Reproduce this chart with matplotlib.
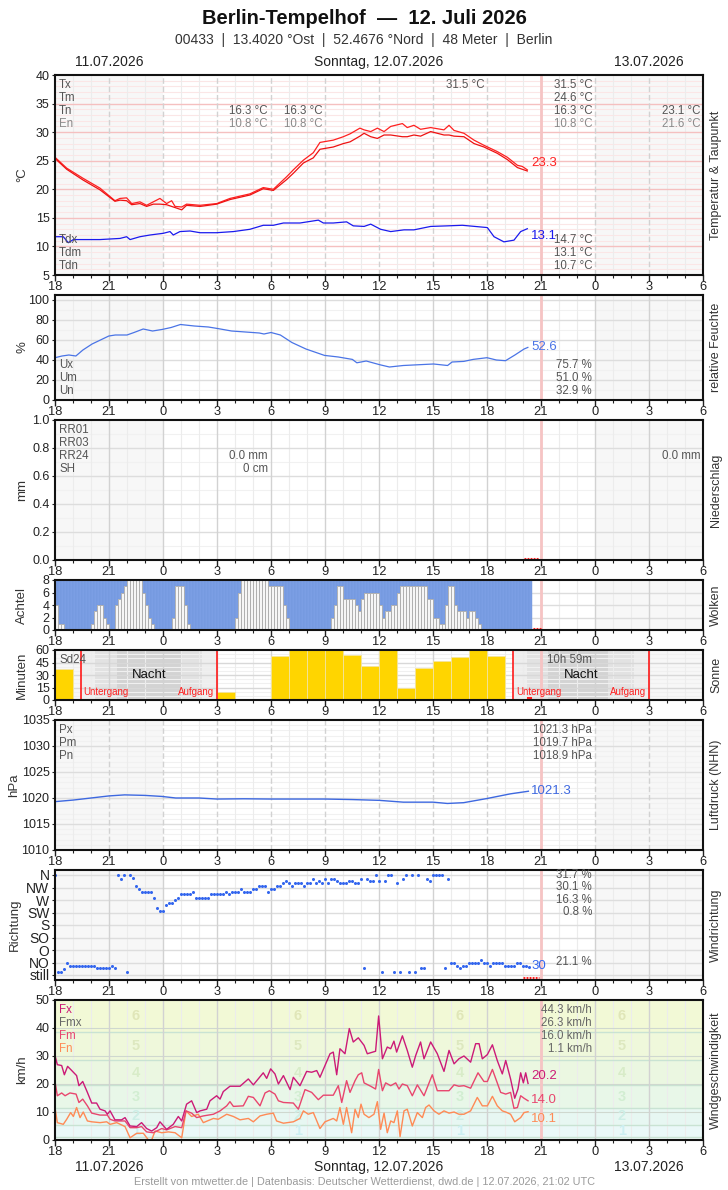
import matplotlib
matplotlib.use('Agg')
import matplotlib.pyplot as plt
from matplotlib import font_manager as fm

avail = {f.name for f in fm.fontManager.ttflist}
FONT = 'Liberation Sans' if 'Liberation Sans' in avail else 'DejaVu Sans'
plt.rcParams['font.family'] = [FONT, 'DejaVu Sans']

# ---------------- data (hours since 11.07. 18:00 UTC) ----------------
HOUR_LABELS = ['18', '21', '0', '3', '6', '9', '12', '15', '18', '21', '0', '3', '6']

temp_h = [0, 0.65, 1.57, 2.5, 3.33, 3.61, 3.98, 4.26, 4.72, 5.09, 5.46, 5.83, 6.20, 6.48, 6.67,
          7.04, 7.31, 8.06, 8.98, 9.72, 10.83, 11.57, 12.13, 12.87, 13.24, 13.80, 14.35, 14.72,
          15.46, 16.02, 16.39, 16.94, 17.17, 17.54, 17.91, 18.28, 18.65, 19.30, 19.57, 19.94,
          20.31, 20.87, 21.61, 21.89, 22.17, 22.72, 23.28, 23.83, 24.57, 25.13, 25.69, 25.96, 26.24]
temp_max = [25.6, 23.7, 21.9, 20.2, 18.0, 18.4, 18.5, 17.5, 17.8, 17.2, 17.8, 18.4, 17.5, 18.0, 17.0,
            16.9, 17.4, 17.2, 17.5, 18.4, 19.2, 20.3, 20.0, 22.2, 23.4, 25.1, 26.4, 28.2,
            28.6, 29.2, 29.7, 30.7, 30.4, 30.1, 30.7, 30.1, 31.0, 31.5, 30.8, 31.2,
            30.5, 30.8, 30.4, 31.2, 30.3, 29.8, 28.6, 27.7, 26.6, 25.6, 24.2, 24.0, 23.4]
temp_mean = [25.4, 23.5, 21.6, 19.9, 17.9, 18.1, 18.0, 17.3, 17.5, 17.0, 17.4, 17.4, 17.3, 17.0, 16.8,
             16.4, 17.2, 17.0, 17.4, 18.2, 19.0, 20.1, 19.8, 21.7, 22.8, 24.6, 25.5, 27.0,
             27.4, 28.0, 28.3, 29.3, 29.8, 29.2, 28.9, 29.5, 29.5, 29.2, 29.2, 29.5,
             29.3, 30.1, 29.5, 29.5, 29.3, 29.2, 28.0, 27.4, 26.3, 25.2, 23.8, 23.5, 23.2]

dew_h = [0, 0.46, 0.74, 1.02, 2.5, 3.61, 3.98, 4.17, 4.72, 5.28, 6.02, 6.39, 6.57, 6.94, 7.5,
         8.06, 8.98, 9.91, 10.83, 11.57, 12.13, 12.69, 13.61, 14.63, 14.91, 15.46, 16.2, 16.57,
         17.17, 17.54, 18.09, 18.65, 19.39, 19.94, 20.87, 21.8, 22.63, 24.02, 24.39, 24.94, 25.5,
         25.87, 26.24]
dew_v = [11.7, 11.7, 10.65, 11.2, 11.2, 11.4, 11.7, 11.2, 11.7, 12.0, 12.3, 12.6, 12.0, 12.6, 12.7,
         12.4, 12.4, 12.6, 13.0, 13.7, 13.7, 14.1, 14.1, 14.6, 14.1, 14.1, 14.3, 13.6,
         13.5, 13.9, 13.0, 12.6, 12.9, 12.9, 13.5, 13.6, 13.7, 13.3, 11.7, 10.8, 11.1,
         12.6, 13.1]

hum_h = [0, 0.39, 0.77, 1.16, 1.55, 2.06, 2.99, 3.35, 4.0, 4.39, 4.9, 5.42, 5.94, 6.45, 6.97,
         7.74, 8.52, 9.03, 9.81, 10.58, 11.35, 11.61, 12.0, 12.52, 13.16, 13.94, 14.97, 15.74,
         16.52, 16.77, 17.29, 18.06, 18.58, 19.35, 20.13, 21.03, 21.81, 22.06, 22.71, 23.23,
         24.0, 24.52, 25.03, 25.55, 26.06, 26.27]
hum_v = [42.3, 44, 45, 44, 50, 56, 64, 65, 65, 67.5, 71, 69, 70.5, 72.5, 75.5,
         74, 73, 71.5, 69, 68, 67, 66, 67.5, 65, 57.5, 51, 44.6, 43,
         40.6, 37.2, 39, 35.2, 33, 34.5, 35.2, 36, 34.5, 38, 38.6, 40.6,
         42.3, 40, 39.3, 45, 51, 52.6]

# cloud cover in octas, 10-minute steps from 18:00
cloud_octas = [4, 1, 1, 0, 0, 0, 0, 0, 0, 0, 0, 0, 1, 3, 4, 4, 2, 1, 0, 0,
               4, 5, 6, 7, 8, 8, 8, 8, 8, 6, 4, 2, 1, 0, 0, 0, 0, 0, 0, 2,
               7, 7, 7, 4, 1, 0, 0, 0, 0, 0, 0, 0, 0, 0, 0, 0, 0, 0, 0, 0,
               2, 6, 8, 8, 8, 8, 8, 8, 8, 8, 8, 7, 7, 7, 7, 7, 4, 2, 0, 0,
               0, 0, 0, 0, 0, 0, 0, 0, 0, 0, 0, 0, 2, 4, 7, 7, 5, 5, 5, 5,
               4, 3, 5, 6, 6, 6, 6, 6, 4, 2, 3, 3, 4, 4, 6, 7, 7, 7, 7, 7,
               7, 7, 7, 7, 5, 5, 2, 2, 1, 1, 4, 7, 7, 4, 3, 3, 3, 2, 3, 3,
               2, 1, 0, 0, 0, 0, 0, 0, 0, 0, 0, 0, 0, 0, 0, 0, 0, 0, 0]

# sunshine minutes per hour, starting 18:00
sun_minutes = [37, 1, 0, 0, 0, 0, 0, 0, 0, 10, 0, 0, 53, 60, 60, 60, 54, 41, 60, 14, 38, 47, 52, 60, 53]
sun_events = [1.46, 8.99, 25.44, 33.02]          # Untergang, Aufgang, Untergang, Aufgang
twilight_left = [1.46, 2.23, 3.44, 7.0, 8.17, 8.99]
twilight_right = [25.44, 26.22, 27.39, 30.75, 32.17, 33.02]

pres_h = [0, 1, 2, 3, 3.87, 5, 5.94, 6.71, 8, 9, 10.5, 12, 14, 15, 16.5, 18, 19.35, 21, 21.8, 22.7,
          24, 25.3, 26.3]
pres_v = [1019.3, 1019.6, 1020.0, 1020.4, 1020.6, 1020.5, 1020.3, 1020.0, 1020.0, 1019.8, 1019.85,
          1019.8, 1019.8, 1019.8, 1019.7, 1019.55, 1019.2, 1019.2, 1018.95, 1019.1, 1019.9, 1020.8,
          1021.3]

# wind direction in degrees, 10-minute steps from 18:00
wind_dir = [360, 12, 12, 20, 42, 32, 32, 32, 32, 32, 32, 32, 32, 32, 24, 24, 24, 24, 24, 32,
            24, 360, 347, 360, 12, 360, 351, 320, 308, 299, 299, 299, 299, 279, 240, 230, 230, 251, 261, 261,
            270, 279, 290, 290, 290, 290, 299, 279, 279, 279, 279, 279, 290, 290, 290, 290, 290, 299, 290, 299,
            299, 299, 308, 299, 299, 299, 308, 308, 320, 320, 320, 299, 308, 308, 320, 320, 330, 340, 330, 320,
            330, 330, 330, 320, 330, 330, 347, 330, 340, 330, 347, 330, 347, 347, 340, 330, 330, 330, 340, 340,
            330, 330, 347, 24, 347, 340, 340, 360, 340, 12, 340, 360, 360, 12, 330, 12, 347, 360, 12, 360,
            12, 360, 24, 24, 347, 340, 360, 360, 360, 360, 24, 347, 45, 45, 32, 24, 32, 32, 42, 42,
            42, 42, 54, 42, 42, 32, 42, 42, 42, 42, 32, 32, 32, 32, 42, 42, 32, 32, 30]
DIR_LABELS = ['still', 'NO', 'O', 'SO', 'S', 'SW', 'W', 'NW', 'N']

fx_h = [0, 0.13, 0.37, 0.52, 0.70, 0.93, 1.20, 1.33, 1.54, 1.80, 2.04, 2.31, 2.50, 2.78, 2.91, 3.06,
        3.33, 3.70, 3.89, 4.17, 4.54, 4.81, 5.09, 5.37, 5.65, 5.83, 6.20, 6.57, 6.85, 7.04, 7.31,
        7.59, 7.87, 8.06, 8.43, 8.61, 8.98, 9.17, 9.35, 9.72, 10.28, 10.74, 11.02, 11.57, 11.76,
        11.98, 12.22, 12.41, 12.69, 13.06, 13.24, 13.61, 13.98, 14.26, 14.54, 14.72, 15.00, 15.28,
        15.46, 15.65, 15.83, 16.11, 16.35, 16.57, 16.85, 17.17, 17.35, 17.81, 17.98, 18.19, 18.46,
        18.65, 18.83, 18.98, 19.30, 19.57, 19.85, 20.04, 20.31, 20.50, 20.87, 21.24, 21.61, 21.89,
        22.17, 22.44, 22.72, 23.09, 23.37, 23.56, 23.74, 24.02, 24.30, 24.57, 24.85, 25.04, 25.31,
        25.54, 25.72, 25.87, 26.02, 26.15, 26.28]
fx_v = [30.2, 26.9, 26.6, 23.3, 26.3, 24.8, 23.0, 19.4, 20.9, 17.0, 13.2, 13.2, 11.0, 10.4, 9.2, 10.4,
        7.2, 7.2, 8.0, 5.0, 4.8, 6.2, 4.1, 3.2, 4.4, 6.5, 3.8, 5.6, 8.4, 6.8, 12.8,
        14.0, 9.8, 10.4, 11.0, 14.0, 15.8, 14.6, 17.3, 19.2, 19.2, 21.8, 19.7, 24.0, 22.0,
        25.4, 23.6, 20.0, 23.0, 18.0, 22.4, 19.4, 24.5, 24.2, 24.8, 22.4, 26.6, 30.8,
        31.4, 23.3, 32.6, 30.8, 39.8, 35.0, 36.5, 33.8, 30.8, 31.7, 44.3, 29.0, 33.2,
        32.6, 35.3, 31.4, 37.2, 32.0, 26.0, 30.2, 35.0, 29.0, 35.0, 30.8, 24.5, 32.0,
        27.2, 29.0, 30.0, 27.8, 34.4, 34.4, 29.0, 30.5, 34.0, 28.4, 23.6, 28.4, 21.8,
        14.9, 18.2, 24.0, 20.4, 24.0, 20.2]

fm_h = [0, 0.13, 0.37, 0.56, 0.83, 1.17, 1.33, 1.54, 1.80, 2.04, 2.50, 2.91, 3.06, 3.33, 3.89, 4.17,
        4.54, 4.81, 5.09, 5.46, 5.65, 5.93, 6.20, 6.67, 7.04, 7.28, 7.59, 7.87, 8.24, 8.80, 9.17,
        9.54, 9.72, 9.91, 10.46, 10.74, 11.02, 11.39, 11.67, 11.91, 12.22, 12.41, 12.69, 13.24,
        13.52, 13.89, 14.26, 14.63, 14.91, 15.46, 15.74, 15.93, 16.20, 16.39, 16.67, 16.85, 17.04,
        17.17, 17.54, 17.81, 17.98, 18.19, 18.37, 18.65, 18.93, 19.11, 19.30, 19.57, 19.85, 20.13,
        20.50, 20.96, 21.24, 21.89, 22.17, 22.44, 22.72, 23.09, 23.50, 23.83, 24.02, 24.30, 24.57,
        24.76, 25.04, 25.31, 25.50, 25.69, 25.87, 26.06, 26.28]
fm_v = [20.9, 15.8, 16.8, 15.8, 16.8, 16.4, 13.4, 14.6, 12.2, 9.6, 8.9, 8.9, 7.4, 6.8, 6.8, 4.4,
        4.4, 4.8, 2.9, 2.6, 3.2, 4.1, 3.6, 4.8, 4.4, 10.4, 9.6, 8.0, 8.6, 9.2, 10.4,
        12.2, 13.7, 12.0, 12.2, 15.6, 15.2, 12.2, 16.8, 17.6, 16.4, 14.0, 13.4, 13.2,
        11.0, 18.0, 17.0, 14.4, 16.0, 16.0, 19.4, 13.4, 21.2, 17.0, 21.2, 23.3, 24.0,
        20.4, 19.2, 18.2, 25.2, 17.6, 20.4, 19.4, 20.4, 18.2, 20.0, 19.4, 15.8, 19.7,
        15.8, 23.3, 17.6, 17.6, 19.7, 19.2, 19.4, 18.5, 24.0, 20.9, 20.9, 25.2, 20.4,
        17.0, 16.4, 17.0, 11.3, 11.6, 15.8, 14.9, 14.0]

fn_h = [0, 0.13, 0.46, 0.65, 0.87, 1.02, 1.20, 1.39, 1.57, 1.80, 2.04, 2.50, 2.87, 3.06, 3.43, 3.89,
        4.17, 4.54, 4.91, 5.19, 5.37, 5.56, 5.93, 6.30, 6.67, 7.04, 7.28, 7.59, 7.96, 8.24, 8.80,
        9.07, 9.54, 9.91, 10.28, 10.74, 11.02, 11.39, 11.76, 12.13, 12.31, 12.69, 13.24, 13.61,
        13.80, 14.07, 14.35, 14.72, 15.00, 15.46, 15.65, 15.83, 16.02, 16.20, 16.48, 16.67, 16.85,
        17.00, 17.17, 17.44, 17.72, 17.91, 18.09, 18.28, 18.46, 18.65, 18.83, 19.02, 19.17, 19.39,
        19.57, 19.85, 20.13, 20.41, 20.59, 20.78, 21.06, 21.33, 21.61, 21.89, 22.17, 22.44, 22.72,
        23.09, 23.46, 23.74, 24.02, 24.30, 24.57, 24.85, 25.04, 25.31, 25.54, 25.87, 26.06, 26.28]
fn_v = [11.6, 6.2, 5.6, 7.4, 9.8, 8.4, 11.6, 8.0, 10.0, 6.8, 6.5, 6.2, 6.5, 5.6, 6.2, 4.8,
        0.8, 2.4, 2.4, 0.0, 0.0, 3.2, 2.6, 2.9, 2.6, 0.8, 10.4, 8.4, 9.2, 6.2, 7.7,
        7.4, 9.2, 8.4, 7.2, 7.7, 6.5, 8.6, 9.2, 9.6, 6.8, 6.0, 6.5, 7.7,
        10.4, 9.2, 9.8, 4.1, 6.5, 7.7, 6.8, 11.6, 5.6, 11.6, 2.6, 11.0, 8.0,
        12.8, 9.2, 8.0, 9.2, 13.7, 3.8, 9.6, 2.6, 6.8, 6.2, 10.4, 1.2, 10.4,
        11.0, 5.0, 9.8, 8.0, 11.6, 12.5, 10.4, 9.2, 10.4, 9.6, 10.0, 9.2, 9.2,
        10.4, 15.2, 12.2, 12.2, 15.6, 12.2, 10.4, 10.0, 9.2, 6.5, 8.0, 9.8, 10.1]

bft_edges = [0, 1, 5.5, 11.5, 19.5, 28.5, 38.5, 50]
bft_colors = ['#f2fbfb', '#eaf8f8', '#e7f7f2', '#e8f7e8', '#ebf7e1', '#eff8db', '#f2f9d6']
bft_text_colors = ['#cdeff2', '#cdeee6', '#d2eed2', '#d8ecc8', '#dde8bf', '#e0e6b8']

NOW = 27.0

# ---------------- figure ----------------
W, H = 728, 1190
X0, X1 = 55, 703
fig = plt.figure(figsize=(W / 100, H / 100), dpi=100)
fig.patch.set_facecolor('white')

TXT = '#555555'
LIGHT = '#8a8a8a'
TICK_FS = 9


def ft(x, y, s, **kw):
    kw.setdefault('va', 'center')
    kw.setdefault('fontsize', 8.3)
    kw.setdefault('color', TXT)
    return fig.text(x / W, 1 - y / H, s, **kw)


def panel(top, bot, ylim, yticks, yticklabels=None, hmajor=(), hminor=(), hcol='#dddddd',
          hmcol='#f1f1f1', vdash=False, shade=True):
    ax = fig.add_axes([X0 / W, 1 - bot / H, (X1 - X0) / W, (bot - top) / H])
    ax.set_xlim(0, 36)
    ax.set_ylim(*ylim)
    if shade:
        ax.axvspan(0, 6, color='#f7f7f7', lw=0, zorder=0)
        ax.axvspan(30, 36, color='#f7f7f7', lw=0, zorder=0)
    for y in hminor:
        ax.axhline(y, color=hmcol, lw=0.8, zorder=0.3)
    for h in range(1, 36):
        if h % 3:
            ax.axvline(h, color='#ececec', lw=0.8, zorder=0.4)
    for y in hmajor:
        ax.axhline(y, color=hcol, lw=1.0, zorder=0.5)
    for h in range(3, 36, 3):
        ax.axvline(h, color='#d2d2d2', lw=1.0, ls=(0, (4, 2)) if vdash else '-', zorder=0.6)
    ax.axvline(NOW, color='#f6c4c4', lw=2, zorder=0.7)
    ax.set_xticks(range(0, 37, 3))
    ax.set_xticklabels(HOUR_LABELS)
    ax.set_xticks(range(37), minor=True)
    ax.set_yticks(yticks)
    if yticklabels is not None:
        ax.set_yticklabels(yticklabels)
    ax.tick_params(axis='x', which='major', length=4, width=1, pad=0.5, labelsize=TICK_FS + 0.3,
                   colors='#222222')
    ax.tick_params(axis='x', which='minor', length=2.5, width=0.8, colors='#222222')
    ax.tick_params(axis='y', length=2, pad=2, labelsize=TICK_FS, colors='#222222')
    for sp in ax.spines.values():
        sp.set_linewidth(1.5)
        sp.set_color('#111111')
        sp.set_zorder(10)
    return ax


def side_labels(yc, left, right, lx=22):
    ft(lx, yc, left, rotation=90, ha='center', fontsize=9.5, color='#333333')
    ft(716, yc, right, rotation=90, ha='center', fontsize=9, color='#333333')


# ---- header ----
ft(364, 18, 'Berlin-Tempelhof  \u2014  12. Juli 2026', ha='center', fontsize=14.5,
   fontweight='bold', color='#111111')
ft(364, 40, '00433  |  13.4020 \u00b0Ost  |  52.4676 \u00b0Nord  |  48 Meter  |  Berlin',
   ha='center', fontsize=10, color='#333333')
for yy in (62, 1167):
    ft(109, yy, '11.07.2026', ha='center', fontsize=10, color='#222222')
    ft(379, yy, 'Sonntag, 12.07.2026', ha='center', fontsize=10, color='#222222')
    ft(649, yy, '13.07.2026', ha='center', fontsize=10, color='#222222')
ft(364, 1182, 'Erstellt von mtwetter.de | Datenbasis: Deutscher Wetterdienst, dwd.de | 12.07.2026, 21:02 UTC',
   ha='center', fontsize=7.8, color='#9a9a9a')

# ---- temperature ----
ax = panel(75, 275, (5, 40), range(5, 41, 5), hmajor=range(10, 40, 5),
           hminor=[v for v in range(6, 40) if v % 5], hcol='#f5c0c0', hmcol='#fbe6e6', vdash=True)
ax.plot(temp_h, temp_max, color='#ff2020', lw=0.9, zorder=3)
ax.plot(temp_h, temp_mean, color='#ee1111', lw=0.9, zorder=3)
ax.plot(dew_h, dew_v, color='#1a1aee', lw=0.9, zorder=3)
ft(531, 163, '23.3', color='#ff2020', fontsize=9.5)
ft(531, 236, '13.1', color='#1a1aee', fontsize=9.5)
side_labels(175, '\u00b0C', 'Temperatur & Taupunkt')
for i, s in enumerate(['Tx', 'Tm', 'Tn']):
    ft(59, 85 + 13 * i, s)
ft(59, 124, 'En', color=LIGHT)
ft(268, 111, '16.3 \u00b0C', ha='right')
ft(268, 124, '10.8 \u00b0C', ha='right', color=LIGHT)
ft(323, 111, '16.3 \u00b0C', ha='right')
ft(323, 124, '10.8 \u00b0C', ha='right', color=LIGHT)
ft(485, 85, '31.5 \u00b0C', ha='right')
for i, s in enumerate(['31.5 \u00b0C', '24.6 \u00b0C', '16.3 \u00b0C']):
    ft(593, 85 + 13 * i, s, ha='right')
ft(593, 124, '10.8 \u00b0C', ha='right', color=LIGHT)
ft(701, 111, '23.1 \u00b0C', ha='right')
ft(701, 124, '21.6 \u00b0C', ha='right', color=LIGHT)
for i, (s, v) in enumerate([('Tdx', '14.7 \u00b0C'), ('Tdm', '13.1 \u00b0C'), ('Tdn', '10.7 \u00b0C')]):
    ft(59, 240 + 13 * i, s)
    ft(593, 240 + 13 * i, v, ha='right')

# ---- humidity ----
ax = panel(295, 400, (0, 105), range(0, 101, 20), hmajor=range(20, 101, 20),
           hminor=range(10, 101, 20))
ax.plot(hum_h, hum_v, color='#4a74e6', lw=0.9, zorder=3)
ft(531, 347, '52.6', color='#4a74e6', fontsize=9.5)
side_labels(347, '%', 'relative Feuchte')
for i, (s, v) in enumerate([('Ux', '75.7 %'), ('Um', '51.0 %'), ('Un', '32.9 %')]):
    ft(59, 365 + 13 * i, s)
    ft(592, 365 + 13 * i, v, ha='right')

# ---- precipitation ----
ax = panel(420, 560, (0, 1.0), [0, 0.2, 0.4, 0.6, 0.8, 1.0], ['0.0', '0.2', '0.4', '0.6', '0.8', '1.0'],
           hmajor=[0.2, 0.4, 0.6, 0.8], hminor=[0.1, 0.3, 0.5, 0.7, 0.9])
ax.plot([26.05, 26.9], [0.01, 0.01], color='#ff2020', lw=2.2, ls=(0, (0.6, 0.4)), zorder=4,
        solid_capstyle='butt')
side_labels(490, 'mm', 'Niederschlag')
for i, s in enumerate(['RR01', 'RR03', 'RR24', 'SH']):
    ft(59, 430 + 13 * i, s)
ft(268, 456, '0.0 mm', ha='right')
ft(268, 469, '0 cm', ha='right')
ft(701, 456, '0.0 mm', ha='right')

# ---- clouds ----
ax = panel(580, 630, (0, 8), [0, 2, 4, 6, 8], hmajor=[2, 4, 6])
n = len(cloud_octas)
xs = [i / 6 for i in range(n)]
ax.bar(xs, [8 - v for v in cloud_octas], bottom=cloud_octas, width=1 / 6, align='edge',
       color='#7b9ee4', edgecolor='#7095dd', lw=0.3, zorder=2)
ax.bar(xs, cloud_octas, width=1 / 6, align='edge', color='#f6f6f6', edgecolor='#a9a9a9',
       lw=0.6, zorder=2)
ax.plot([26.55, 27.0], [0.2, 0.2], color='#ff2020', lw=2.2, ls=(0, (0.6, 0.4)), zorder=4)
side_labels(605, 'Achtel', 'Wolken')

# ---- sunshine ----
ax = panel(650, 700, (0, 60), [0, 15, 30, 45, 60], hmajor=[15, 30, 45], hminor=[5, 10, 20, 25, 35, 40, 50, 55],
           hcol='#d8d8d8', hmcol='#f0f0f0')
tw_cols = ['#eeeeee', '#e2e2e2', '#d3d3d3', '#e2e2e2', '#eeeeee']
for tw in (twilight_left, twilight_right):
    for a, b, c in zip(tw[:-1], tw[1:], tw_cols):
        ax.axvspan(a, b, color=c, lw=0, zorder=0.2)
ax.bar(range(len(sun_minutes)), sun_minutes, width=1, align='edge', color='#ffd500',
       edgecolor='#f3e4a0', lw=0.6, zorder=2)
for t in sun_events:
    ax.axvline(t, color='#ff1a1a', lw=1.2, zorder=3)
ax.plot([26.3, 26.4], [3, 3], color='#ff2020', lw=2.2, zorder=4)
side_labels(675, 'Minuten', 'Sonne')
ft(59, 660, 'Sd24')
ft(592, 660, '10h 59m', ha='right')
ft(149, 675, 'Nacht', ha='center', fontsize=9.5, color='#111111')
ft(581, 675, 'Nacht', ha='center', fontsize=9.5, color='#111111')
for xl, xr in ((83, 214), (516, 646)):
    ft(xl, 692, 'Untergang', fontsize=7, color='#ff2020')
    ft(xr, 692, 'Aufgang', fontsize=7, color='#ff2020', ha='right')

# ---- pressure ----
ax = panel(720, 850, (1010, 1035), range(1010, 1036, 5), hmajor=range(1015, 1035, 5),
           hminor=[v for v in range(1011, 1035) if v % 5], vdash=True)
ax.plot(pres_h, pres_v, color='#3d68e0', lw=1.0, zorder=3)
ft(531, 791, '1021.3', color='#3d68e0', fontsize=9.5)
side_labels(785, 'hPa', 'Luftdruck (NHN)', lx=14)
for i, (s, v) in enumerate([('Px', '1021.3 hPa'), ('Pm', '1019.7 hPa'), ('Pn', '1018.9 hPa')]):
    ft(59, 730 + 13 * i, s)
    ft(592, 730 + 13 * i, v, ha='right')

# ---- wind direction ----
ax = panel(870, 980, (-0.4, 8.4), range(9), DIR_LABELS, hmajor=range(9))
ax.tick_params(axis='y', labelsize=10)
xs = [i / 6 for i in range(len(wind_dir))]
ax.plot(xs, [d / 45 for d in wind_dir], ls='', marker='o', ms=2.2, mew=0, color='#3366ee', zorder=3)
ax.plot([26.0, 26.9], [-0.22, -0.22], color='#ff2020', lw=2.2, ls=(0, (0.6, 0.4)), zorder=4)
ft(531, 966, '30', color='#3366ee', fontsize=9.5)
side_labels(925, 'Richtung', 'Windrichtung', lx=15)
for i, v in enumerate(['31.7 %', '30.1 %', '16.3 %', '0.8 %']):
    ft(592, 875 + 12.4 * i, v, ha='right')
ft(592, 962, '21.1 %', ha='right')

# ---- wind speed ----
ax = panel(1000, 1140, (0, 50), range(0, 51, 10), shade=False)
for a, b, c in zip(bft_edges[:-1], bft_edges[1:], bft_colors):
    ax.axhspan(a, b, color=c, lw=0, zorder=0)
for e in bft_edges[1:-1]:
    ax.axhline(e, color='#c9e3d3', lw=1.0, zorder=0.5)
for y in (10, 20, 30, 40):
    ax.axhline(y, color='#cfd8cf', lw=0.8, zorder=0.5)
for k in range(1, 7):
    yc = (bft_edges[k] + bft_edges[k + 1]) / 2
    for hx in (4.5, 13.5, 22.5, 31.5):
        ax.text(hx, yc, str(k), ha='center', va='center', fontsize=10.5, fontweight='bold',
                color=bft_text_colors[k - 1], zorder=1)
ax.plot(fn_h, fn_v, color='#ff8a55', lw=1.0, zorder=3)
ax.plot(fm_h, fm_v, color='#e8466e', lw=1.0, zorder=3)
ax.plot(fx_h, fx_v, color='#cc1a77', lw=1.0, zorder=3)
ft(531, 1076, '20.2', color='#cc1a77', fontsize=9.5)
ft(531, 1100, '14.0', color='#e8466e', fontsize=9.5)
ft(531, 1119, '10.1', color='#ff8a55', fontsize=9.5)
side_labels(1070, 'km/h', 'Windgeschwindigkeit')
ft(59, 1010, 'Fx', color='#cc1a77')
ft(59, 1023, 'Fmx', color='#666666')
ft(59, 1036, 'Fm', color='#e8466e')
ft(59, 1049, 'Fn', color='#ff8a55')
for i, v in enumerate(['44.3 km/h', '26.3 km/h', '16.0 km/h', '1.1 km/h']):
    ft(592, 1010 + 13 * i, v, ha='right', color='#666666')

fig.savefig('out.png', dpi=100, facecolor='white')
